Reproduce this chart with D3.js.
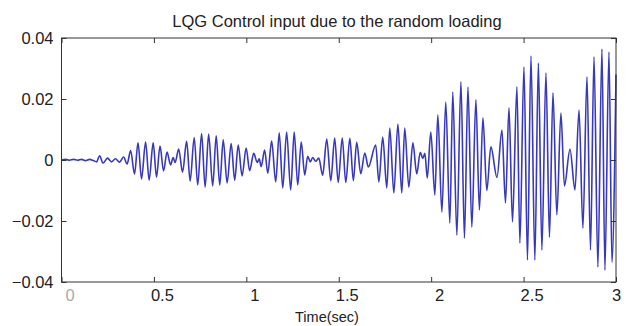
<!DOCTYPE html>
<html>
<head>
<meta charset="utf-8">
<script src="https://cdn.jsdelivr.net/npm/d3@7"></script>
<style>
  body { margin: 0; background: #fff; }
  svg { display: block; }
</style>
</head>
<body>
<svg id="chart"></svg>
<script>
// peaks and troughs of the control signal (time in sec, input)
const timeSec = [
  0, 0.022, 0.043, 0.065, 0.087, 0.108, 0.130, 0.152, 0.173, 0.190,
  0.206, 0.225, 0.249, 0.271, 0.292, 0.314, 0.336, 0.355, 0.374, 0.395,
  0.414, 0.433, 0.455, 0.474, 0.496, 0.514, 0.533, 0.552, 0.571, 0.590,
  0.604, 0.615, 0.634, 0.655, 0.677, 0.696, 0.718, 0.737, 0.758, 0.777,
  0.796, 0.818, 0.837, 0.856, 0.875, 0.896, 0.918, 0.937, 0.956, 0.977,
  0.999, 1.018, 1.040, 1.059, 1.070, 1.080, 1.099, 1.116, 1.137, 1.159,
  1.178, 1.197, 1.218, 1.240, 1.259, 1.278, 1.297, 1.316, 1.332, 1.346,
  1.359, 1.375, 1.392, 1.413, 1.435, 1.457, 1.478, 1.497, 1.519, 1.538,
  1.560, 1.579, 1.597, 1.619, 1.641, 1.660, 1.700, 1.717, 1.738, 1.760,
  1.776, 1.798, 1.820, 1.841, 1.857, 1.879, 1.901, 1.922, 1.941, 1.955,
  1.966, 1.979, 1.998, 2.020, 2.036, 2.058, 2.079, 2.101, 2.117, 2.139,
  2.161, 2.180, 2.199, 2.220, 2.242, 2.261, 2.280, 2.301, 2.323, 2.356,
  2.383, 2.402, 2.421, 2.440, 2.464, 2.480, 2.502, 2.521, 2.540, 2.561,
  2.580, 2.599, 2.621, 2.640, 2.659, 2.680, 2.702, 2.721, 2.751, 2.778,
  2.800, 2.821, 2.843, 2.862, 2.881, 2.902, 2.924, 2.940, 2.962, 2.978,
  3.0
];
const controlInput = [
  0, 0.0002, -0.0001, 0.0002, -0.0001, 0.0002, -0.0002, 0.0002, -0.0002, -0.0006,
  0.0014, -0.0010, 0.0006, -0.0006, 0.0004, -0.0007, 0.0010, -0.0013, 0.0031, -0.0046,
  0.0056, -0.0062, 0.0059, -0.0066, 0.0056, -0.0056, 0.0046, -0.0036, 0.0026, -0.0016,
  0.0008, -0.0008, 0.0036, -0.0040, 0.0061, -0.0069, 0.0074, -0.0082, 0.0087, -0.0089,
  0.0085, -0.0085, 0.0079, -0.0082, 0.0066, -0.0075, 0.0054, -0.0066, 0.0049, -0.0052,
  0.0039, -0.0035, 0.0022, -0.0008, 0.0004, -0.0022, 0.0033, -0.0043, 0.0062, -0.0072,
  0.0089, -0.0092, 0.0092, -0.0098, 0.0092, -0.0082, 0.0059, -0.0049, 0.0012, -0.0006,
  0.0008, -0.0004, 0.0006, -0.0050, 0.0069, -0.0068, 0.0072, -0.0074, 0.0072, -0.0074,
  0.0071, -0.0068, 0.0058, -0.0045, 0.0023, -0.0023, 0.0049, -0.0072, 0.0075, -0.0092,
  0.0105, -0.0108, 0.0118, -0.0108, 0.0105, -0.0089, 0.0056, -0.0045, 0.0025, 0.0005,
  0.0022, -0.0059, 0.0092, -0.0115, 0.0148, -0.0171, 0.0190, -0.0207, 0.0223, -0.0246,
  0.0256, -0.0256, 0.0239, -0.0220, 0.0197, -0.0164, 0.0138, -0.0100, 0.0043, -0.0057,
  0.0098, -0.0141, 0.0171, -0.0203, 0.0240, -0.0272, 0.0305, -0.0328, 0.0341, -0.0328,
  0.0318, -0.0295, 0.0285, -0.0253, 0.0220, -0.0180, 0.0154, -0.0085, 0.0035, -0.0098,
  0.0164, -0.0223, 0.0272, -0.0295, 0.0338, -0.0351, 0.0364, -0.0361, 0.0354, -0.0335,
  0.0280
];
const xTicks = [0, 0.5, 1, 1.5, 2, 2.5, 3];
const yTicks = [-0.04, -0.02, 0, 0.02, 0.04];

const width = 630;
const height = 326;
const margin = { top: 38, right: 14, bottom: 44, left: 61.5 };

const svg = d3.select("#chart")
  .attr("width", width)
  .attr("height", height)
  .style("font-family", "'Liberation Sans', Arial, sans-serif");

const x = d3.scaleLinear().domain([0, 3]).range([margin.left, width - margin.right]);
const y = d3.scaleLinear().domain([-0.04, 0.04]).range([height - margin.bottom, margin.top]);

// the signal
const data = timeSec.map((t, i) => ({ t: t, v: controlInput[i] }));
const line = d3.line()
  .x(d => x(d.t))
  .y(d => y(d.v))
  .curve(d3.curveMonotoneX);

svg.append("path")
  .datum(data)
  .attr("fill", "none")
  .attr("stroke", "#3838bc")
  .attr("stroke-width", 1.6)
  .attr("stroke-linejoin", "round")
  .attr("d", line);

// axes, ticks pointing inwards like matlab
const fmtY = d => d === 0 ? "0" : d3.format(".2f")(d).replace("-", "\u2212");

const gx = svg.append("g")
  .attr("transform", `translate(0,${y(-0.04)})`)
  .call(d3.axisBottom(x).tickValues(xTicks).tickSize(-5).tickPadding(7).tickFormat(d3.format("")));
gx.selectAll("text")
  .attr("dx", (d, i) => i < xTicks.length - 1 ? 8 : 0)
  .attr("fill", d => d === 0 ? "#aaa" : "#222");

const gy = svg.append("g")
  .attr("transform", `translate(${x(0)},0)`)
  .call(d3.axisLeft(y).tickValues(yTicks).tickSize(-5).tickPadding(8).tickFormat(fmtY));

svg.append("g")
  .attr("transform", `translate(0,${y(0.04)})`)
  .call(d3.axisTop(x).tickValues(xTicks).tickSize(-5).tickFormat(""));

svg.append("g")
  .attr("transform", `translate(${x(3)},0)`)
  .call(d3.axisRight(y).tickValues(yTicks).tickSize(-5).tickFormat(""));

svg.selectAll(".domain").remove();
svg.selectAll(".tick line").attr("stroke", "#333");
svg.selectAll(".tick text").style("font-size", "16.5px").style("font-family", "'Liberation Sans', Arial, sans-serif");
gy.selectAll("text").attr("fill", "#222");

svg.append("rect")
  .attr("x", x(0))
  .attr("y", y(0.04))
  .attr("width", x(3) - x(0))
  .attr("height", y(-0.04) - y(0.04))
  .attr("fill", "none")
  .attr("stroke", "#333")
  .attr("stroke-width", 1);

// title and axis label
svg.append("text")
  .attr("x", 337)
  .attr("y", 27)
  .attr("text-anchor", "middle")
  .style("font-size", "16.5px")
  .attr("fill", "#222")
  .text("LQG Control input due to the random loading");

svg.append("text")
  .attr("x", 327)
  .attr("y", 322)
  .attr("text-anchor", "middle")
  .style("font-size", "14.5px")
  .attr("fill", "#222")
  .text("Time(sec)");
</script>
</body>
</html>
